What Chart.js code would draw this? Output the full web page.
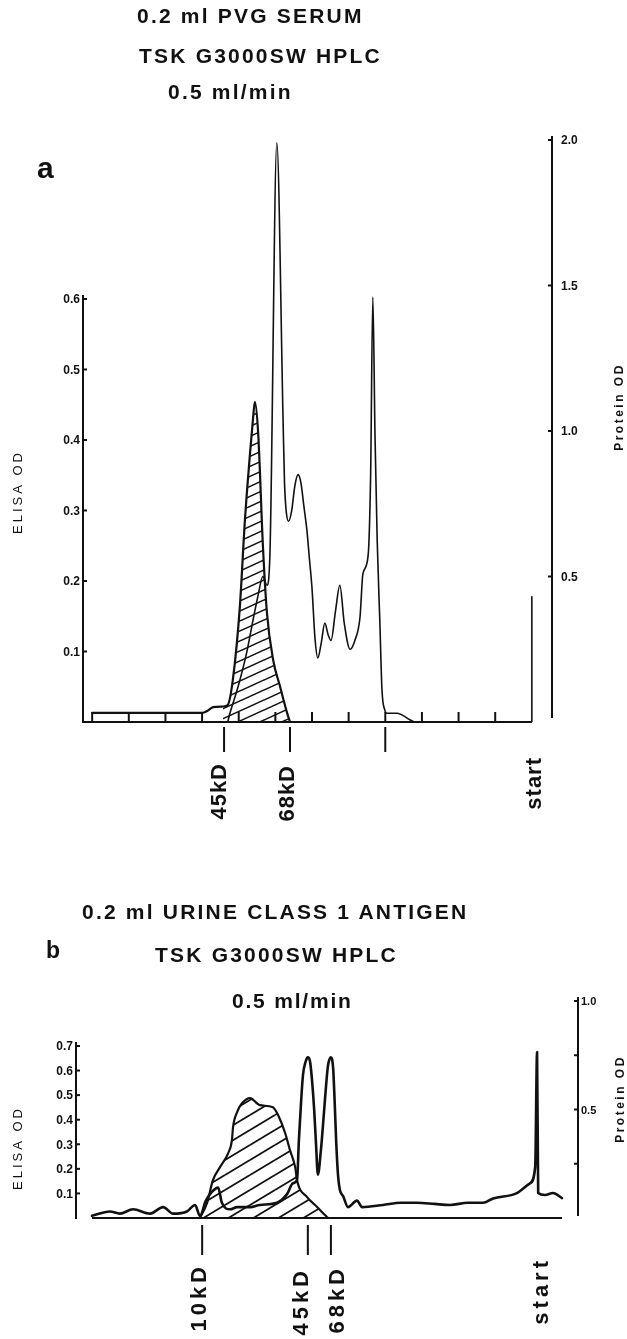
<!DOCTYPE html>
<html lang="en">
<head>
<meta charset="utf-8">
<title>TSK G3000SW HPLC profiles</title>
<script src="https://cdn.jsdelivr.net/npm/chart.js@4.4.1/dist/chart.umd.min.js"></script>
<style>
  html, body { margin: 0; padding: 0; background: #fff; }
  body { position: relative; width: 627px; height: 1339px; overflow: hidden;
         font-family: "Liberation Sans", Arial, Helvetica, sans-serif; color: #111; }
  canvas { position: absolute; left: 0; }
  #chart-a { top: 0; }
  #chart-b { top: 830px; }
  .head { position: absolute; font-size: 21px; line-height: 21px; font-weight: bold;
          letter-spacing: 2.2px; white-space: nowrap; }
  .panel { position: absolute; font-weight: bold; line-height: 1; }
</style>
</head>
<body>
<canvas id="chart-a" width="627" height="830"></canvas>
<canvas id="chart-b" width="627" height="509"></canvas>

<div class="head" style="left:137px; top:5px;">0.2 ml PVG SERUM</div>
<div class="head" style="left:139px; top:45px;">TSK G3000SW HPLC</div>
<div class="head" style="left:168px; top:81px;">0.5 ml/min</div>
<div class="panel" style="left:37px; top:153px; font-size:30px;">a</div>

<div class="head" style="left:82px; top:901px;">0.2 ml URINE CLASS 1 ANTIGEN</div>
<div class="head" style="left:155px; top:944px;">TSK G3000SW HPLC</div>
<div class="head" style="left:232px; top:990px; letter-spacing:1.8px;">0.5 ml/min</div>
<div class="panel" style="left:46px; top:939px; font-size:23px;">b</div>

<script>
const ink = '#111';

// a: 0.2 ml PVG serum, fraction number vs OD
const elisaA_frac = [0, 1, 2, 3.0, 3.15, 3.3, 3.57, 3.70, 3.84, 4.03, 4.17, 4.31, 4.39, 4.44, 4.53, 4.66, 4.77, 4.94, 5.13, 5.32, 5.40];
const elisaA_od   = [0.013, 0.013, 0.013, 0.013, 0.016, 0.021, 0.022, 0.024, 0.06, 0.163, 0.287, 0.382, 0.43, 0.454, 0.41, 0.25, 0.155, 0.088, 0.05, 0.013, 0];

const proteinA_frac = [3.70, 3.76, 3.98, 4.22, 4.39, 4.52, 4.66, 4.77, 4.85, 5.04,
                       5.21, 5.25, 5.30, 5.36, 5.45, 5.53, 5.62, 5.70, 5.78, 5.86,
                       5.93, 6.00, 6.08, 6.16, 6.25, 6.35, 6.44, 6.52, 6.64, 6.76,
                       6.88, 7.04, 7.17, 7.31, 7.39, 7.53, 7.60, 7.66, 7.72, 7.78,
                       7.85, 7.91, 7.99, 8.04, 8.32, 8.68, 8.80, 12.0, 12.0];
const proteinA_od   = [0, 0.03, 0.12, 0.24, 0.35, 0.43, 0.50, 0.47, 0.57, 1.99,
                       1.04, 0.82, 0.72, 0.69, 0.73, 0.81, 0.85, 0.82, 0.74, 0.66,
                       0.56, 0.46, 0.29, 0.22, 0.27, 0.34, 0.30, 0.28, 0.38, 0.47,
                       0.34, 0.25, 0.28, 0.36, 0.51, 0.57, 0.85, 1.46, 0.98, 0.62,
                       0.35, 0.11, 0.04, 0.03, 0.03, 0.007, 0, 0, 0.43];

const markersA      = ['45kD', '68kD', '', 'start'];
const markersA_frac = [3.6, 5.4, 8.0, 12.0];
const fractionTicksA = [0, 1, 2, 3, 4, 5, 6, 7, 8, 9, 10, 11];
const elisaTicksA    = [0.1, 0.2, 0.3, 0.4, 0.5, 0.6];
const proteinTicksA  = [0.5, 1.0, 1.5, 2.0];

// b: 0.2 ml urine class 1 antigen
const elisaB_frac = [2.90, 3.09, 3.25, 3.44, 3.66, 3.76, 3.79, 3.90, 4.03, 4.25, 4.43,
                     4.51, 4.86, 5.00, 5.19, 5.32, 5.46, 5.51, 5.78, 6.05, 6.26, 6.34];
const elisaB_od   = [0, 0.06, 0.154, 0.207, 0.264, 0.317, 0.37, 0.431, 0.467, 0.488, 0.467,
                     0.459, 0.451, 0.419, 0.346, 0.276, 0.207, 0.154, 0.085, 0.045, 0.012, 0];

const proteinB_frac = [0, 0.48, 0.75, 1.10, 1.56, 1.91, 2.18, 2.55, 2.77, 2.90,
                       3.06, 3.22, 3.39, 3.49, 3.71, 3.90, 4.25, 4.51, 4.97, 5.24,
                       5.40, 5.51, 5.56, 5.62, 5.67, 5.74, 5.80, 5.86, 5.91, 5.97,
                       6.02, 6.07, 6.15, 6.24, 6.29, 6.34, 6.42, 6.48, 6.52, 6.56,
                       6.61, 6.66, 6.75, 6.88, 7.12, 7.26, 7.82, 8.30, 8.73, 9.20,
                       9.62, 10.10, 10.51, 10.78, 11.42, 11.77, 11.91, 11.96, 11.99, 12.17,
                       12.39, 12.63];
const proteinB_od   = [0.01, 0.03, 0.02, 0.04, 0.02, 0.05, 0.02, 0.03, 0.06, 0.01,
                       0.08, 0.12, 0.14, 0.07, 0.04, 0.05, 0.05, 0.06, 0.07, 0.11,
                       0.16, 0.175, 0.36, 0.54, 0.66, 0.72, 0.74, 0.72, 0.64, 0.50,
                       0.34, 0.20, 0.31, 0.50, 0.61, 0.70, 0.74, 0.69, 0.54, 0.36,
                       0.20, 0.13, 0.10, 0.05, 0.08, 0.05, 0.06, 0.07, 0.07, 0.065,
                       0.06, 0.07, 0.07, 0.09, 0.115, 0.16, 0.235, 0.765, 0.115, 0.106,
                       0.115, 0.092];

const markersB      = ['10kD', '45kD', '68kD', 'start'];
const markersB_frac = [2.96, 5.80, 6.42, 12.0];
const elisaTicksB    = [0.1, 0.2, 0.3, 0.4, 0.5, 0.6, 0.7];
const proteinTicksB  = [0.25, 0.5, 0.75, 1.0];
const proteinLabelsB = [0.5, 1.0];


function toPoints(xs, ys) {
    return xs.map((x, i) => ({ x: x, y: ys[i] }));
}

// diagonal "/" hatching used under the ELISA curves
function hatch(w, h, lw) {
    const c = document.createElement('canvas');
    c.width = w;
    c.height = h;
    const g = c.getContext('2d');
    g.strokeStyle = ink;
    g.lineWidth = lw;
    for (const dx of [-w, 0, w]) {
        for (const dy of [-h, 0, h]) {
            g.beginPath();
            g.moveTo(dx, dy + h);
            g.lineTo(dx + w, dy);
            g.stroke();
        }
    }
    return g.createPattern(c, 'repeat');
}

function vtext(ctx, str, x, y, font, spacing, align) {
    ctx.save();
    ctx.translate(x, y);
    ctx.rotate(-Math.PI / 2);
    ctx.font = font;
    ctx.letterSpacing = spacing + 'px';
    ctx.textAlign = align;
    ctx.textBaseline = 'middle';
    ctx.fillText(str, 0, 0);
    ctx.restore();
}

// axes are drawn by hand: the recorder style has inward ticks and partial axis lines
function axesFor(c) {
    return {
        id: 'hplcAxes',
        afterDatasetsDraw(chart) {
            const ctx = chart.ctx;
            const area = chart.chartArea;
            const xs = chart.scales.x, ye = chart.scales.yElisa, yp = chart.scales.yProtein;
            const base = ye.getPixelForValue(0);
            const seg = (x1, y1, x2, y2) => {
                ctx.beginPath();
                ctx.moveTo(x1, y1);
                ctx.lineTo(x2, y2);
                ctx.stroke();
            };

            ctx.save();
            ctx.strokeStyle = ink;
            ctx.fillStyle = ink;
            ctx.lineWidth = 2;
            ctx.lineCap = 'butt';

            // fraction axis
            seg(xs.getPixelForValue(c.baseline[0]), base, xs.getPixelForValue(c.baseline[1]), base);
            c.fractionTicks.forEach(f => {
                const x = xs.getPixelForValue(f);
                seg(x, base + 1, x, base - 10);
            });

            // ELISA OD, left
            const xl = area.left;
            const eTop = c.elisaTicks[c.elisaTicks.length - 1];
            seg(xl, base + 1, xl, ye.getPixelForValue(eTop) - 4);
            ctx.font = c.leftFont;
            ctx.textAlign = 'right';
            ctx.textBaseline = 'middle';
            c.elisaTicks.forEach(v => {
                const y = ye.getPixelForValue(v);
                seg(xl, y, xl + 4, y);
                ctx.fillText(v.toFixed(1), xl - 3, y + 1);
            });

            // protein OD, right
            const xr = area.right;
            const pTop = c.proteinTicks[c.proteinTicks.length - 1];
            seg(xr, base - c.rightGap, xr, yp.getPixelForValue(pTop) - 4);
            c.proteinTicks.forEach(v => {
                const y = yp.getPixelForValue(v);
                seg(xr - 4, y, xr, y);
            });
            ctx.font = c.rightFont;
            ctx.textAlign = 'left';
            c.proteinLabels.forEach(v => {
                ctx.fillText(v.toFixed(1), xr + c.rightLabelGap, yp.getPixelForValue(v) + 1);
            });

            // molecular weight markers below the fraction axis
            c.markers.forEach((name, i) => {
                const x = xs.getPixelForValue(c.markerFrac[i]);
                if (name !== 'start') seg(x, base + c.guide[0], x, base + c.guide[1]);
                if (name) vtext(ctx, name, x + c.labelDx[i], base + c.labelDy[i], 'bold 22px "Liberation Sans", Arial, sans-serif', c.markerSpacing, 'right');
            });

            vtext(ctx, 'ELISA OD', c.elisaTitle[0], c.elisaTitle[1], '13px "Liberation Sans", Arial, sans-serif', 3, 'center');
            vtext(ctx, 'Protein OD', c.proteinTitle[0], c.proteinTitle[1], 'bold 12px "Liberation Sans", Arial, sans-serif', 2.5, 'center');
            ctx.restore();
        }
    };
}

function drawPanel(id, c) {
    return new Chart(document.getElementById(id), {
        type: 'line',
        data: { datasets: c.datasets },
        options: {
            responsive: false,
            animation: false,
            events: [],
            layout: { padding: c.padding },
            scales: {
                x: { type: 'linear', display: false, min: c.xRange[0], max: c.xRange[1] },
                yElisa: { type: 'linear', display: false, position: 'left', min: 0, max: c.elisaMax },
                yProtein: { type: 'linear', display: false, position: 'right', min: 0, max: c.proteinMax }
            },
            elements: {
                point: { radius: 0 },
                line: { cubicInterpolationMode: 'monotone', borderJoinStyle: 'round', borderCapStyle: 'round' }
            },
            plugins: { legend: { display: false }, tooltip: { enabled: false } }
        },
        plugins: [axesFor(c)]
    });
}

const elisaA = toPoints(elisaA_frac, elisaA_od);

drawPanel('chart-a', {
    padding: { left: 83, right: 75, top: 140, bottom: 108 },
    xRange: [-0.25, 12.55],
    elisaMax: 0.8255,
    proteinMax: 2.0,
    datasets: [
        { data: toPoints(proteinA_frac, proteinA_od), yAxisID: 'yProtein', borderColor: ink, borderWidth: 1.6, fill: false },
        { data: elisaA, yAxisID: 'yElisa', borderColor: ink, borderWidth: 2.2, fill: false },
        { data: elisaA.filter(p => p.x >= 3.57), yAxisID: 'yElisa', borderWidth: 0, borderColor: 'rgba(0,0,0,0)',
          backgroundColor: hatch(22, 10, 1.5), fill: 'origin' }
    ],
    baseline: [-0.25, 12.0],
    fractionTicks: fractionTicksA,
    elisaTicks: elisaTicksA,
    proteinTicks: proteinTicksA,
    proteinLabels: proteinTicksA,
    leftFont: 'bold 12px "Liberation Sans", Arial, sans-serif',
    rightFont: 'bold 12px "Liberation Sans", Arial, sans-serif',
    rightGap: 4,
    rightLabelGap: 9,
    markers: markersA,
    markerFrac: markersA_frac,
    guide: [5, 30],
    labelDx: [-4, -2, 0, 3],
    labelDy: [41, 43, 0, 35],
    markerSpacing: 1,
    elisaTitle: [18, 492],
    proteinTitle: [620, 407]
});

drawPanel('chart-b', {
    padding: { left: 76, right: 49, top: 171, bottom: 121 },
    xRange: [-0.43, 13.06],
    elisaMax: 0.883,
    proteinMax: 1.0,
    datasets: [
        { data: toPoints(proteinB_frac, proteinB_od), yAxisID: 'yProtein', borderColor: ink, borderWidth: 2.6, fill: false },
        { data: toPoints(elisaB_frac, elisaB_od), yAxisID: 'yElisa', borderColor: ink, borderWidth: 2.2,
          backgroundColor: hatch(25, 15, 1.8), fill: 'origin' }
    ],
    baseline: [0, 12.63],
    fractionTicks: [],
    elisaTicks: elisaTicksB,
    proteinTicks: proteinTicksB,
    proteinLabels: proteinLabelsB,
    leftFont: 'bold 12px "Liberation Sans", Arial, sans-serif',
    rightFont: 'bold 11px "Liberation Sans", Arial, sans-serif',
    rightGap: 2,
    rightLabelGap: 3,
    markers: markersB,
    markerFrac: markersB_frac,
    guide: [7, 37],
    labelDx: [-2, -6, 7, 3],
    labelDy: [45, 49, 47, 39],
    markerSpacing: 4,
    elisaTitle: [18, 318],
    proteinTitle: [621, 269]
});
</script>
</body>
</html>
